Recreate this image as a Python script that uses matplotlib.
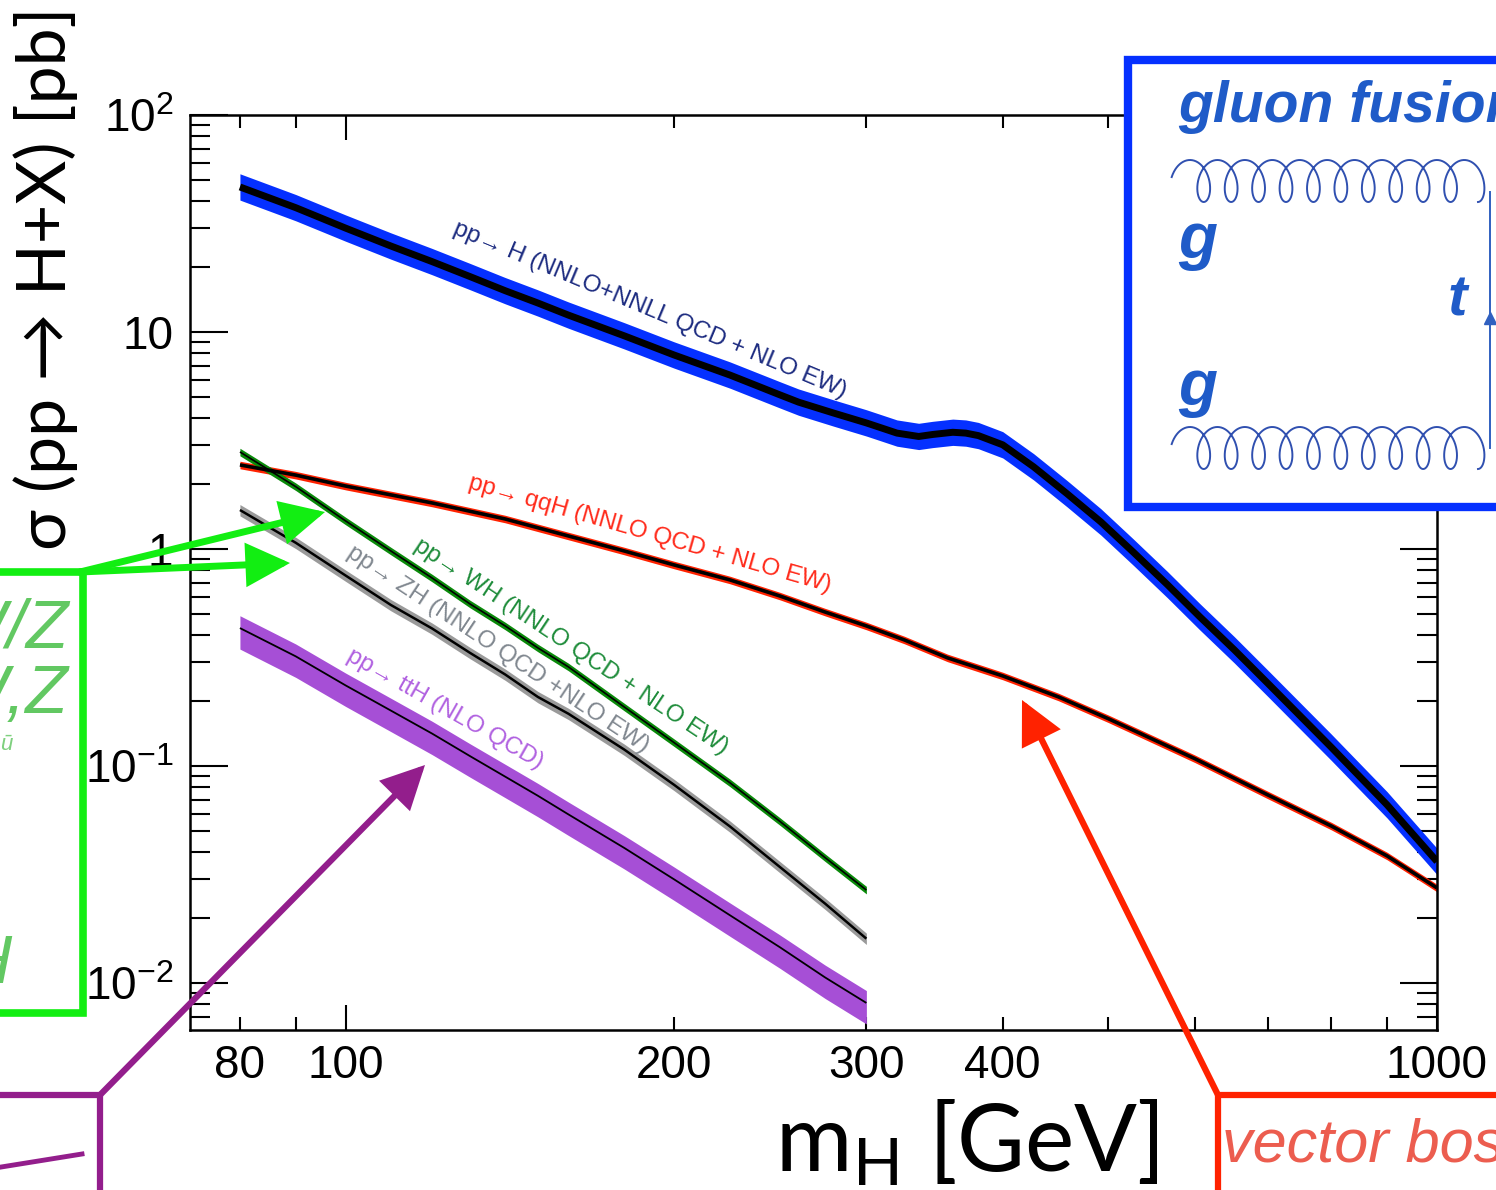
import numpy as np
import matplotlib
matplotlib.use("Agg")
import matplotlib.pyplot as plt
from matplotlib.ticker import LogLocator, FuncFormatter
from matplotlib.patches import Rectangle

plt.rcParams["font.family"] = ["Liberation Sans", "DejaVu Sans"]
plt.rcParams["mathtext.fontset"] = "custom"
plt.rcParams["mathtext.rm"] = "Liberation Sans"
plt.rcParams["mathtext.it"] = "Liberation Sans:italic"
plt.rcParams["mathtext.bf"] = "Liberation Sans:bold"
plt.rcParams["mathtext.sf"] = "Lato"

# ---- cross sections sigma(pp -> H + X) [pb] versus m_H [GeV] ----
mass_ggH = [80, 90, 100, 110, 120, 130, 140, 150, 160, 180, 200, 225, 250,
            260, 280, 300, 320, 335, 345, 360, 370, 380, 400, 427, 458, 492,
            527, 566, 606, 652, 700, 800, 900, 1000]
xs_ggH = [46.6, 37.4, 30.1, 24.9, 21.1, 18.0, 15.5, 13.6, 11.96, 9.6, 7.83,
          6.33, 5.13, 4.75, 4.23, 3.81, 3.42, 3.30, 3.37, 3.45, 3.42, 3.33,
          3.02, 2.39, 1.80, 1.333, 0.966, 0.686, 0.488, 0.343, 0.240, 0.122,
          0.0662, 0.0363]

mass_qqH = [80, 90, 100, 120, 140, 160, 180, 200, 225, 250, 275, 300, 325,
            356, 400, 450, 500, 600, 700, 800, 900, 1000]
xs_qqH = [2.44, 2.19, 1.95, 1.63, 1.375, 1.148, 0.979, 0.844, 0.720, 0.607,
          0.512, 0.442, 0.381, 0.315, 0.260, 0.208, 0.165, 0.108, 0.0735,
          0.0529, 0.0385, 0.0274]

mass_short = [80, 90, 100, 110, 120, 130, 140, 150, 160, 180, 200, 225, 250,
              275, 300]
xs_WH = [2.80, 1.937, 1.346, 0.979, 0.735, 0.558, 0.442, 0.350, 0.286, 0.187,
         0.128, 0.0836, 0.0555, 0.0378, 0.0268]
xs_ZH = [1.512, 1.068, 0.754, 0.552, 0.430, 0.332, 0.264, 0.208, 0.174, 0.119,
         0.0818, 0.0526, 0.0342, 0.0232, 0.0160]
xs_ttH = [0.432, 0.320, 0.235, 0.180, 0.141, 0.111, 0.0893, 0.0729, 0.0598,
          0.0419, 0.0300, 0.0205, 0.0146, 0.0106, 0.00809]

# relative scale/PDF uncertainty bands (up, down)
unc_ggH = (0.15, 0.13)
unc_qqH = (0.04, 0.04)
unc_WH = (0.04, 0.04)
unc_ZH = (0.06, 0.06)
unc_ttH = (0.14, 0.20)

x_ticklabels = {80: "80", 100: "100", 200: "200", 300: "300", 400: "400",
                1000: "1000"}
y_ticklabels = {0.01: r"$\mathrm{10^{-2}}$", 0.1: r"$\mathrm{10^{-1}}$",
                1: "1", 10: "10", 100: r"$\mathrm{10^{2}}$"}

BLUE = "#0530ff"
RED = "#ff2200"
GREEN_BAND = "#0a8a0a"
GREY_BAND = "#9a9a9a"
PURPLE_BAND = "#a64fd6"

W, H = 1496, 1190
fig = plt.figure(figsize=(W / 100, H / 100), dpi=100)
ax = fig.add_axes([190 / W, 1 - 1030 / H, (1437 - 190) / W, (1030 - 115) / H])
ax.set_xscale("log")
ax.set_yscale("log")
ax.set_xlim(72, 1000)
ax.set_ylim(0.00607, 100)


def band(m, xs, unc, fc, lc, lw, z):
    m = np.asarray(m, float)
    xs = np.asarray(xs, float)
    ax.fill_between(m, xs * (1 - unc[1]), xs * (1 + unc[0]), color=fc, lw=0,
                    zorder=z)
    ax.plot(m, xs, color=lc, lw=lw, zorder=z + 0.5, solid_joinstyle="round",
            solid_capstyle="butt")


band(mass_ggH, xs_ggH, unc_ggH, BLUE, "black", 5.0, 2)
band(mass_qqH, xs_qqH, unc_qqH, RED, "black", 2.6, 2)
band(mass_short, xs_WH, unc_WH, GREEN_BAND, "black", 1.2, 2)
band(mass_short, xs_ZH, unc_ZH, GREY_BAND, "black", 1.8, 2)
band(mass_short, xs_ttH, unc_ttH, PURPLE_BAND, "black", 1.3, 2)

# process labels along the curves
lab_kw = dict(ha="left", va="baseline", rotation_mode="anchor", fontsize=17.5,
              zorder=4)
ax.text(125.0, 28.6, "pp\u2192 H (NNLO+NNLL QCD + NLO EW)", rotation=-22.8,
        color="#1c2b80", **lab_kw)
ax.text(129.3, 1.91, "pp\u2192 qqH (NNLO QCD + NLO EW)", rotation=-16.0,
        color="#ff2a1a", **lab_kw)
ax.text(115.2, 1.0, "pp\u2192 WH (NNLO QCD + NLO EW)", rotation=-33.6,
        color="#1e8c3a", **lab_kw)
ax.text(100.0, 0.93, "pp\u2192 ZH (NNLO QCD +NLO EW)", rotation=-33.5,
        color="#80878f", **lab_kw)
ax.text(100.0, 0.31, "pp\u2192 ttH (NLO QCD)", rotation=-29.5,
        color="#b060e0", **lab_kw)

# axes, ticks and tick labels
ax.xaxis.set_major_locator(LogLocator(base=10))
ax.xaxis.set_minor_locator(LogLocator(base=10, subs=np.arange(2, 10)))
fmt_x = FuncFormatter(lambda v, p: x_ticklabels.get(int(round(v)), ""))
ax.xaxis.set_major_formatter(fmt_x)
ax.xaxis.set_minor_formatter(fmt_x)
ax.yaxis.set_major_locator(LogLocator(base=10))
ax.yaxis.set_minor_locator(LogLocator(base=10, subs=np.arange(2, 10)))
ax.yaxis.set_major_formatter(
    FuncFormatter(lambda v, p: y_ticklabels.get(round(v, 4), "")))
ax.yaxis.set_minor_formatter(FuncFormatter(lambda v, p: ""))

ax.tick_params(which="both", direction="in", top=True, right=True,
               labelsize=33, width=1.5, color="black")
ax.tick_params(axis="x", which="major", length=18, pad=10)
ax.tick_params(axis="x", which="minor", length=9.5, pad=10)
ax.tick_params(axis="y", which="major", length=27, pad=12)
ax.tick_params(axis="y", which="minor", length=14.5, pad=12)
for s in ax.spines.values():
    s.set_linewidth(1.8)

fig.text(46 / W, 1 - 278 / H, "\u03c3 (pp \u2192 H+X) [pb]", rotation=90,
         ha="center", va="center", fontsize=49,
         family=["Lato", "Open Sans", "DejaVu Sans"])
fig.text(967 / W, 1 - 1143 / H, r"m$_{\mathsf{H}}$ [GeV]", ha="center",
         va="center", fontsize=67, family=["Lato", "DejaVu Sans"])

# ---- overlay layer in pixel units for the process diagrams ----
ov = fig.add_axes([0, 0, 1, 1], zorder=10)
ov.set_xlim(0, W)
ov.set_ylim(H, 0)
ov.axis("off")


def arrow(tail, tip, color, lw, hl=1.2, hw=0.6):
    ov.annotate("", xy=tip, xytext=tail, annotation_clip=False,
                arrowprops=dict(arrowstyle=f"-|>,head_length={hl},head_width={hw}",
                                color=color, lw=lw, shrinkA=0, shrinkB=0,
                                mutation_scale=20, joinstyle="miter"))


def gluon(x0, x1, yc, loops, rx, ry, color):
    t = np.linspace(-0.22, loops, 3000)
    p = (x1 - x0) / loops
    x = x0 + p * t + rx * np.sin(2 * np.pi * t)
    y = yc - ry * np.cos(2 * np.pi * t)
    ov.plot(x, y, color=color, lw=1.4)


# gluon fusion box
GF = "#1f5bc8"
ov.add_patch(Rectangle((1128, 60), 420, 447, fc="white", ec=BLUE, lw=6))
ov.text(1178, 122, "gluon fusion", fontsize=41, style="italic",
        weight="bold", color=GF)
gluon(1190, 1478, 181, 10.5, 12.5, 21, "#3050b0")
gluon(1190, 1478, 448, 10.5, 12.5, 21, "#3050b0")
ov.text(1178, 258, "g", fontsize=46, style="italic", weight="bold", color=GF)
ov.text(1178, 405, "g", fontsize=46, style="italic", weight="bold", color=GF)
ov.text(1448, 315, "t", fontsize=42, style="italic", weight="bold", color=GF)
ov.plot([1490, 1490], [192, 448], color="#3060c0", lw=1.4)
ov.plot([1490], [318], marker="^", ms=8, color="#3060c0")

# W/Z associated production box
GREEN = "#12ee12"
ov.add_patch(Rectangle((-30, 572), 113, 441, fc="white", ec=GREEN, lw=5.5))
ov.text(68, 648, "W/Z", ha="right", va="baseline", fontsize=50,
        style="italic", color="#62c862")
ov.text(68, 713, "W,Z", ha="right", va="baseline", fontsize=50,
        style="italic", color="#62c862")
ov.text(12, 750, "\u016b", ha="right", va="baseline", fontsize=16,
        style="italic", color="#7fd07f")
ov.text(12, 983, "H", ha="right", va="baseline", fontsize=50,
        style="italic", color="#62c862")
arrow((80, 572), (325, 512), GREEN, 5.0)
arrow((80, 572), (290, 563), GREEN, 5.0)

# ttH box
PURPLE = "#931e8c"
ov.plot([-10, 100, 100], [1095, 1095, 1200], color=PURPLE, lw=4.5,
        solid_joinstyle="miter")
ov.plot([-5, 82], [1168, 1154], color=PURPLE, lw=3.5)
arrow((100, 1095), (425, 765), PURPLE, 4.5)

# vector boson fusion box
ov.plot([1218, 1218, 1510], [1200, 1095, 1095], color=RED, lw=4.5,
        solid_joinstyle="miter")
ov.text(1222, 1162, "vector boson fusion", fontsize=44, style="italic",
        color="#ec5d4f", va="baseline")
arrow((1218, 1095), (1022, 700), RED, 4.5)

fig.savefig("out.png", dpi=100)
